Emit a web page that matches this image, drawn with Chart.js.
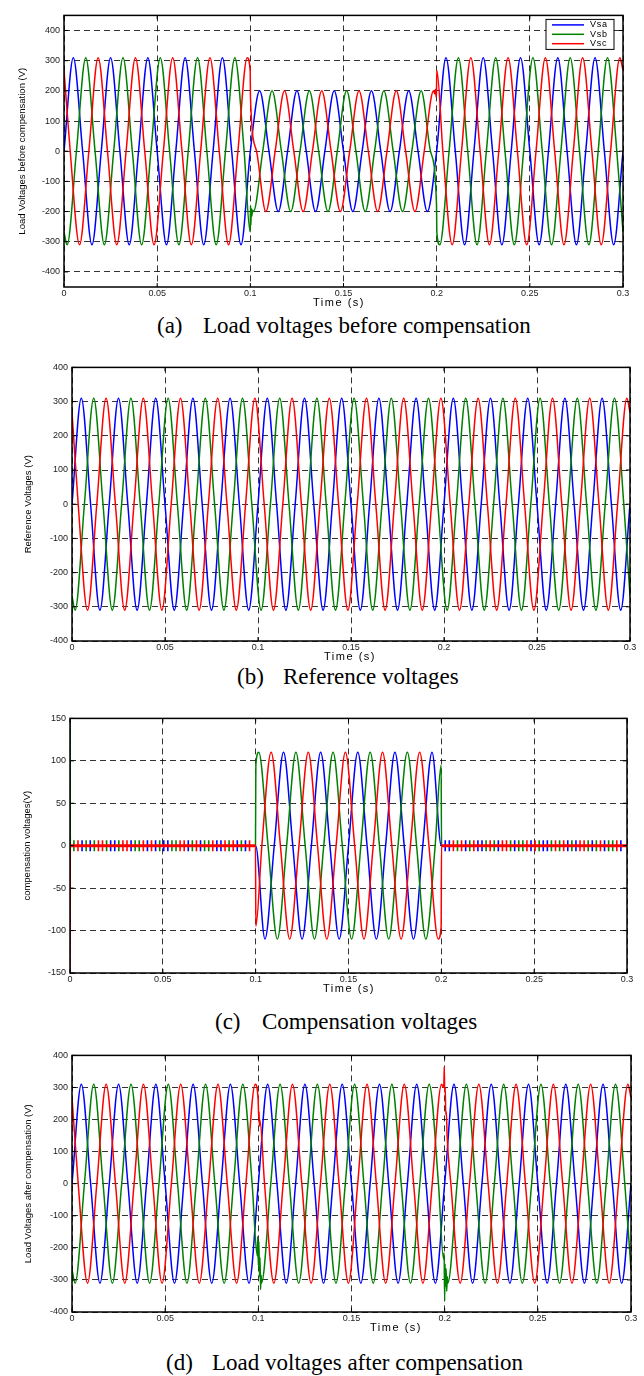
<!DOCTYPE html>
<html>
<head>
<meta charset="utf-8">
<script src="https://cdn.jsdelivr.net/npm/chart.js@4"></script>
<style>
  body { margin: 0; background: #fff; width: 644px; height: 1376px; position: relative; overflow: hidden; }
  canvas { position: absolute; left: 0; }
  .cap { position: absolute; font-family: "Liberation Serif", "Times New Roman", serif; font-size: 23px; line-height: 26px; color: #000; white-space: nowrap; }
</style>
</head>
<body>
<canvas id="chartA"></canvas>
<canvas id="chartB"></canvas>
<canvas id="chartC"></canvas>
<canvas id="chartD"></canvas>

<div class="cap" style="left:157px;top:313px">(a)</div>
<div class="cap" style="left:203px;top:313px">Load voltages before compensation</div>
<div class="cap" style="left:237px;top:664px">(b)</div>
<div class="cap" style="left:283px;top:664px">Reference voltages</div>
<div class="cap" style="left:215px;top:1009px">(c)</div>
<div class="cap" style="left:262px;top:1009px">Compensation voltages</div>
<div class="cap" style="left:166px;top:1350px">(d)</div>
<div class="cap" style="left:212px;top:1350px">Load voltages after compensation</div>

<script>
// axes
const xTicks = [0, 0.05, 0.1, 0.15, 0.2, 0.25, 0.3];
const xTickLabels = ['0', '0.05', '0.1', '0.15', '0.2', '0.25', '0.3'];
const yTicksV = [-400, -300, -200, -100, 0, 100, 200, 300, 400];
const yTicksComp = [-150, -100, -50, 0, 50, 100, 150];
const seriesNames = ['Vsa', 'Vsb', 'Vsc'];

// sample times (s) of each phase: zero crossings and peaks
const tA = [0,.005,.01,.015,.02,.025,.03,.035,.04,.045,.05,.055,.06,.065,.07,.075,.08,.085,.09,.095,
  .1,.105,.11,.115,.12,.125,.13,.135,.14,.145,.15,.155,.16,.165,.17,.175,.18,.185,.19,.195,
  .2,.205,.21,.215,.22,.225,.23,.235,.24,.245,.25,.255,.26,.265,.27,.275,.28,.285,.29,.295,.3];
const tB = [0,
  .00167,.00667,.01167,.01667,.02167,.02667,.03167,.03667,.04167,.04667,.05167,.05667,.06167,.06667,.07167,.07667,.08167,.08667,.09167,.09667,
  .10167,.10667,.11167,.11667,.12167,.12667,.13167,.13667,.14167,.14667,.15167,.15667,.16167,.16667,.17167,.17667,.18167,.18667,.19167,.19667,
  .20167,.20667,.21167,.21667,.22167,.22667,.23167,.23667,.24167,.24667,.25167,.25667,.26167,.26667,.27167,.27667,.28167,.28667,.29167,.29667,
  .3];
const tC = [0,
  .00333,.00833,.01333,.01833,.02333,.02833,.03333,.03833,.04333,.04833,.05333,.05833,.06333,.06833,.07333,.07833,.08333,.08833,.09333,.09833,
  .10333,.10833,.11333,.11833,.12333,.12833,.13333,.13833,.14333,.14833,.15333,.15833,.16333,.16833,.17333,.17833,.18333,.18833,.19333,.19833,
  .20333,.20833,.21333,.21833,.22333,.22833,.23333,.23833,.24333,.24833,.25333,.25833,.26333,.26833,.27333,.27833,.28333,.28833,.29333,.29833,
  .3];

// (a) load voltages before compensation (sag 0.1-0.2 s)
const beforeA = [0,310,0,-310,0,310,0,-310,0,310,0,-310,0,310,0,-310,0,310,0,-310,
  0,200,0,-200,0,200,0,-200,0,200,0,-200,0,200,0,-200,0,200,0,-200,
  0,310,0,-310,0,310,0,-310,0,310,0,-310,0,310,0,-310,0,310,0,-310,
  0];
const beforeB = [-268,
  -310,0,310,0,-310,0,310,0,-310,0,310,0,-310,0,310,0,-310,0,310,0,
  -200,0,200,0,-200,0,200,0,-200,0,200,0,-200,0,200,0,-200,0,200,0,
  -310,0,310,0,-310,0,310,0,-310,0,310,0,-310,0,310,0,-310,0,310,0,
  -268];
const beforeC = [268,
  0,-310,0,310,0,-310,0,310,0,-310,0,310,0,-310,0,310,0,-310,0,310,
  0,-200,0,200,0,-200,0,200,0,-200,0,200,0,-200,0,200,0,-200,0,200,
  0,-310,0,310,0,-310,0,310,0,-310,0,310,0,-310,0,310,0,-310,0,310,
  268];
const beforeBJumps = [[.0999,-268],[.1001,-180],[.1003,-245],[.1005,-190],[.1008,-215],[.1012,-195],[.1999,-173],[.2001,-268]];
const beforeCJumps = [[.0999,268],[.1001,173],[.199,190],[.1994,205],[.1997,180],[.1999,195],[.2001,268]];

// (b) reference voltages, also the base of (d)
const refA = [0,310,0,-310,0,310,0,-310,0,310,0,-310,0,310,0,-310,0,310,0,-310,
  0,310,0,-310,0,310,0,-310,0,310,0,-310,0,310,0,-310,0,310,0,-310,
  0,310,0,-310,0,310,0,-310,0,310,0,-310,0,310,0,-310,0,310,0,-310,
  0];
const refB = [-268,
  -310,0,310,0,-310,0,310,0,-310,0,310,0,-310,0,310,0,-310,0,310,0,
  -310,0,310,0,-310,0,310,0,-310,0,310,0,-310,0,310,0,-310,0,310,0,
  -310,0,310,0,-310,0,310,0,-310,0,310,0,-310,0,310,0,-310,0,310,0,
  -268];
const refC = [268,
  0,-310,0,310,0,-310,0,310,0,-310,0,310,0,-310,0,310,0,-310,0,310,
  0,-310,0,310,0,-310,0,310,0,-310,0,310,0,-310,0,310,0,-310,0,310,
  0,-310,0,310,0,-310,0,310,0,-310,0,310,0,-310,0,310,0,-310,0,310,
  268];

// (c) compensation voltages
const compAt = [0,.1,.105,.11,.115,.12,.125,.13,.135,.14,.145,.15,.155,.16,.165,.17,.175,.18,.185,.19,.195,.2,.3];
const compAv = [0,0,-110,0,110,0,-110,0,110,0,-110,0,110,0,-110,0,110,0,-110,0,110,0,0];
const compBt = [0,.0002,.0999,.1001,.10167,.10667,.11167,.11667,.12167,.12667,.13167,.13667,.14167,.14667,
  .15167,.15667,.16167,.16667,.17167,.17667,.18167,.18667,.19167,.19667,.1999,.2001,.3];
const compBv = [150,0,0,95,110,0,-110,0,110,0,-110,0,110,0,-110,0,110,0,-110,0,110,0,-110,0,95,0,0];
const compCt = [0,.0002,.0999,.1001,.10333,.10833,.11333,.11833,.12333,.12833,.13333,.13833,.14333,.14833,
  .15333,.15833,.16333,.16833,.17333,.17833,.18333,.18833,.19333,.19833,.1999,.2001,.3];
const compCv = [-150,0,0,-95,0,110,0,-110,0,110,0,-110,0,110,0,-110,0,110,0,-110,0,110,0,-110,-95,0,0];
// switching ripple spikes around zero
const rippleA = [.0065,.0109,.0219,.0241,.0329,.0417,.0461,.0505,.0527,.0637,.0703,.0791,.0813,.0901,.0945,
  .2021,.2043,.2131,.2197,.2219,.2307,.2395,.2483,.2549,.2571,.2681,.2725,.2813,.2879,.2967];
const rippleB = [.0021,.0087,.0131,.0197,.0263,.0351,.0373,.0483,.0549,.0571,.0659,.0725,.0747,.0857,.0923,
  .2087,.2153,.2241,.2285,.2373,.2417,.2439,.2527,.2593,.2637,.2703,.2791,.2835,.2901,.2923];
const rippleC = [.0043,.0153,.0175,.0285,.0307,.0395,.0439,.0593,.0615,.0681,.0769,.0835,.0879,.0967,
  .2065,.2109,.2175,.2263,.2329,.2351,.2461,.2505,.2615,.2659,.2747,.2769,.2857,.2945];

// (d) load voltages after compensation: transients at 0.1 s and 0.2 s
const afterBJumps = [[.0994,-225],[.0997,-165],[.1,-255],[.1003,-180],[.1006,-290],[.1009,-230],[.1012,-330],[.1015,-285],
  [.1994,-235],[.1997,-215],[.2,-365],[.2002,-250],[.2005,-320],[.2008,-265],[.2011,-335],[.2014,-290]];
const afterCJumps = [[.0999,262],[.1002,205],[.1004,225],[.1006,180],[.1008,200],
  [.1995,300],[.1998,365],[.2,285],[.2003,300],[.2006,215],[.2009,225],[.2013,150]];

const FONT = "'Liberation Sans', Arial, sans-serif";
const COLORS = ['#0000ff', '#008000', '#ff0000'];

function pts(ts, vs, extra) {
  const p = ts.map((t, i) => ({ x: t, y: vs[i] }));
  (extra || []).forEach(e => p.push({ x: e[0], y: e[1] }));
  return p.sort((a, b) => a.x - b.x);
}

function wave(i, data, flatWidth) {
  const ds = {
    label: seriesNames[i], data, borderColor: COLORS[i], backgroundColor: COLORS[i],
    borderWidth: 1.5, order: 2 - i, fill: false
  };
  // thicker trace where the signal sits flat on zero
  if (flatWidth) {
    ds.segment = { borderWidth: c => (c.p0.parsed.y === 0 && c.p1.parsed.y === 0) ? flatWidth : 1.5 };
  }
  return ds;
}

function ripple(i, times) {
  return {
    label: 'ripple' + i, data: times.map(t => ({ x: t, y: 0 })), showLine: false,
    pointStyle: 'line', pointRotation: 90, pointRadius: 5.5, pointHoverRadius: 5.5,
    pointBorderColor: COLORS[i], pointBorderWidth: 1.6, order: 5
  };
}

// solid frame with inside tick marks, like the original plots
const frame = {
  id: 'frame',
  afterDatasetsDraw(chart) {
    const { ctx, chartArea: a, scales } = chart;
    ctx.save();
    ctx.setLineDash([]);
    ctx.strokeStyle = '#000';
    ctx.lineWidth = 1;
    ctx.beginPath();
    scales.x.ticks.forEach(t => {
      const px = scales.x.getPixelForValue(t.value);
      ctx.moveTo(px, a.bottom); ctx.lineTo(px, a.bottom - 4);
      ctx.moveTo(px, a.top); ctx.lineTo(px, a.top + 4);
    });
    scales.y.ticks.forEach(t => {
      const py = scales.y.getPixelForValue(t.value);
      ctx.moveTo(a.left, py); ctx.lineTo(a.left + 4, py);
      ctx.moveTo(a.right, py); ctx.lineTo(a.right - 4, py);
    });
    ctx.stroke();
    ctx.lineWidth = 1.5;
    ctx.strokeRect(a.left, a.top, a.right - a.left, a.bottom - a.top);
    ctx.restore();
  }
};

const timeLabel = {
  id: 'timeLabel',
  afterDraw(chart, args, opts) {
    const ctx = chart.ctx;
    ctx.save();
    ctx.font = '11px ' + FONT;
    ctx.letterSpacing = '1.5px';
    ctx.fillStyle = '#000';
    ctx.textAlign = 'center';
    ctx.textBaseline = 'middle';
    ctx.fillText('Time (s)', opts.x, chart.chartArea.bottom + 16);
    ctx.restore();
  }
};

const boxLegend = {
  id: 'boxLegend',
  afterDatasetsDraw(chart) {
    const ctx = chart.ctx, a = chart.chartArea;
    const x = a.right - 77, y = a.top + 4, w = 68, h = 30;
    ctx.save();
    ctx.fillStyle = '#fff';
    ctx.fillRect(x, y, w, h);
    ctx.strokeStyle = '#000';
    ctx.lineWidth = 1;
    ctx.strokeRect(x, y, w, h);
    ctx.font = '9px ' + FONT;
    ctx.letterSpacing = '0.8px';
    ctx.textBaseline = 'middle';
    chart.data.datasets.forEach((ds, i) => {
      const ly = y + 5.5 + 9.4 * i;
      ctx.strokeStyle = ds.borderColor;
      ctx.lineWidth = 1.5;
      ctx.beginPath();
      ctx.moveTo(x + 6, ly); ctx.lineTo(x + 38, ly);
      ctx.stroke();
      ctx.fillStyle = '#000';
      ctx.fillText(ds.label, x + 44, ly);
    });
    ctx.restore();
  }
};

function makeChart(id, box, yMin, yMax, yTicks, yTitle, titleX, timeX, datasets, extraPlugins) {
  const padTop = 6, xAxisH = 22, padLeft = 10;
  const cv = document.getElementById(id);
  cv.width = 644;
  cv.height = padTop + (box.bottom - box.top) + xAxisH;
  cv.style.top = (box.top - padTop) + 'px';
  return new Chart(cv, {
    type: 'line',
    data: { datasets },
    options: {
      responsive: false,
      animation: false,
      devicePixelRatio: 1,
      parsing: false,
      layout: { padding: { top: padTop, left: padLeft, right: 644 - box.right, bottom: 0 } },
      elements: {
        point: { radius: 0 },
        line: { cubicInterpolationMode: 'monotone' }
      },
      plugins: {
        legend: { display: false },
        tooltip: { enabled: false },
        timeLabel: { x: timeX }
      },
      scales: {
        x: {
          type: 'linear', min: 0, max: 0.3,
          afterBuildTicks: s => { s.ticks = xTicks.map(v => ({ value: v })); },
          afterFit: s => { s.height = xAxisH; },
          ticks: {
            callback: v => xTickLabels[xTicks.indexOf(v)],
            font: { family: FONT, size: 9 }, color: '#222', padding: 1,
            maxRotation: 0, autoSkip: false
          },
          grid: { color: '#000', lineWidth: 0.8, drawTicks: false },
          border: { display: false, dash: [6, 4] }
        },
        y: {
          type: 'linear', min: yMin, max: yMax,
          afterBuildTicks: s => { s.ticks = yTicks.map(v => ({ value: v })); },
          afterFit: s => { s.width = box.left - padLeft; },
          ticks: { callback: v => String(v), font: { family: FONT, size: 9 }, color: '#222', padding: 4, autoSkip: false },
          grid: { color: '#000', lineWidth: 0.8, drawTicks: false },
          border: { display: false, dash: [6, 4] },
          title: {
            display: true, text: yTitle, color: '#000',
            font: { family: FONT, size: 9.5 },
            padding: { top: titleX - padLeft - 5.7, bottom: 0 }
          }
        }
      }
    },
    plugins: [frame, timeLabel].concat(extraPlugins || [])
  });
}

makeChart('chartA', { left: 64, right: 623, top: 12, bottom: 287 }, -450, 450, yTicksV,
  'Load Voltages before compensation (V)', 22, 339, [
    wave(0, pts(tA, beforeA)),
    wave(1, pts(tB, beforeB, beforeBJumps)),
    wave(2, pts(tC, beforeC, beforeCJumps))
  ], [boxLegend]);

makeChart('chartB', { left: 72, right: 630, top: 364, bottom: 641 }, -400, 400, yTicksV,
  'Reference Voltages (V)', 28, 350, [
    wave(0, pts(tA, refA)),
    wave(1, pts(tB, refB)),
    wave(2, pts(tC, refC))
  ]);

makeChart('chartC', { left: 70, right: 627, top: 715, bottom: 973 }, -150, 150, yTicksComp,
  'compensation voltages(V)', 27, 349, [
    wave(0, pts(compAt, compAv)),
    wave(1, pts(compBt, compBv)),
    wave(2, pts(compCt, compCv), 3),
    ripple(0, rippleA),
    ripple(1, rippleB),
    ripple(2, rippleC)
  ]);

makeChart('chartD', { left: 72, right: 631, top: 1052, bottom: 1312 }, -400, 400, yTicksV,
  'Load Voltages after compensation (V)', 28, 396, [
    wave(0, pts(tA, refA)),
    wave(1, pts(tB, refB, afterBJumps)),
    wave(2, pts(tC, refC, afterCJumps))
  ]);
</script>
</body>
</html>
